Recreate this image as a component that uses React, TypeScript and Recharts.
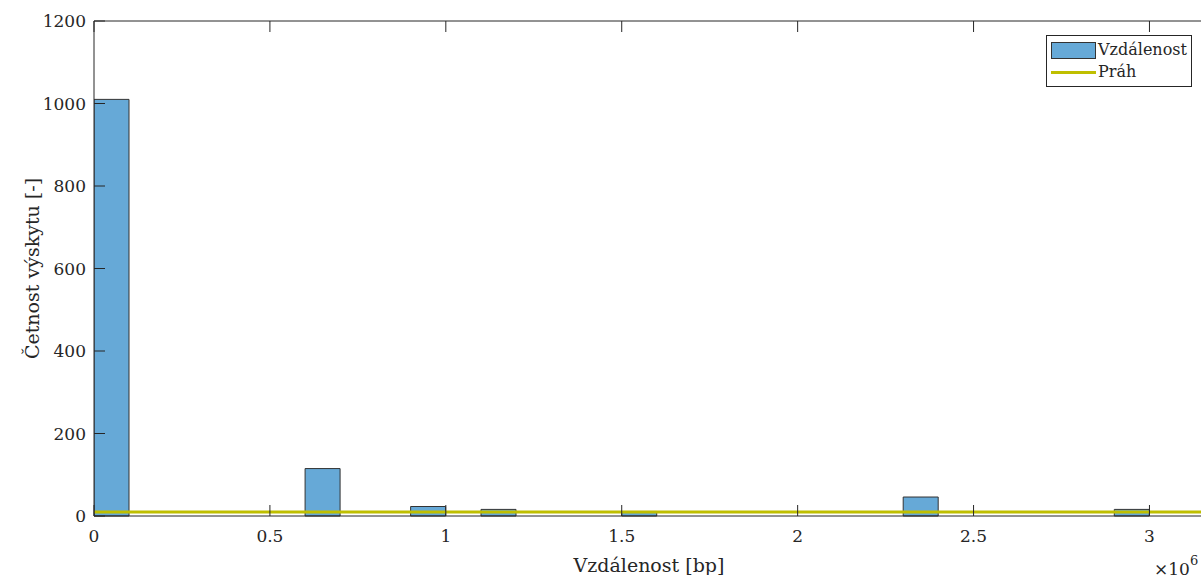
import { ComposedChart, Bar, XAxis, YAxis, ReferenceLine, Legend, Label } from 'recharts';

// histogram bins, width 0.1e6 bp, given by centre
const binCenters = [
  50000, 150000, 250000, 350000, 450000, 550000, 650000, 750000, 850000, 950000,
  1050000, 1150000, 1250000, 1350000, 1450000, 1550000, 1650000, 1750000, 1850000, 1950000,
  2050000, 2150000, 2250000, 2350000, 2450000, 2550000, 2650000, 2750000, 2850000, 2950000,
  3050000,
];
const counts = [
  1010, 0, 0, 0, 0, 0, 115, 0, 0, 23,
  0, 16, 0, 0, 0, 11, 0, 0, 0, 0,
  0, 0, 0, 46, 0, 0, 0, 0, 0, 16,
  0,
];
const threshold = 10;

const xTicks = [0, 500000, 1000000, 1500000, 2000000, 2500000, 3000000];
const xTickLabels = ['0', '0.5', '1', '1.5', '2', '2.5', '3'];
const yTicks = [0, 200, 400, 600, 800, 1000, 1200];

const data = binCenters.map((x, i) => ({ x, count: counts[i] }));

const FONT = '"DejaVu Serif", serif';
const INK = '#262626';
const TICK_LEN = 11;
const BAR_FILL = '#66a9d7';
const LINE_COLOR = '#bfbf00';

const BottomTick = ({ x, y, payload }: any) => {
  const idx = xTicks.indexOf(payload.value);
  return (
    <g>
      <line x1={x} y1={y} x2={x} y2={y - TICK_LEN} stroke={INK} />
      <text x={x} y={y + 26} textAnchor="middle" fill={INK} fontSize={17} fontFamily={FONT}>
        {idx >= 0 ? xTickLabels[idx] : payload.value}
      </text>
    </g>
  );
};

const TopTick = ({ x, y }: any) => <line x1={x} y1={y} x2={x} y2={y + TICK_LEN} stroke={INK} />;

const LeftTick = ({ x, y, payload }: any) => (
  <g>
    <line x1={x} y1={y} x2={x + TICK_LEN} y2={y} stroke={INK} />
    <text x={x - 8} y={y + 6} textAnchor="end" fill={INK} fontSize={17} fontFamily={FONT}>
      {payload.value}
    </text>
  </g>
);

const RightTick = ({ x, y }: any) => <line x1={x} y1={y} x2={x - TICK_LEN} y2={y} stroke={INK} />;

const ScaleLabel = ({ viewBox }: any) => {
  const right = 1201;
  return (
    <text x={right - 47} y={viewBox.y + 59} fill={INK} fontSize={17} fontFamily={FONT}>
      ×10<tspan dy={-10} fontSize={13}>6</tspan>
    </text>
  );
};

const YTitle = ({ viewBox }: any) => {
  const cx = 32;
  const cy = viewBox.y + viewBox.height / 2;
  return (
    <text
      x={cx}
      y={cy}
      transform={`rotate(-90 ${cx} ${cy})`}
      textAnchor="middle"
      dominantBaseline="central"
      fill={INK}
      fontSize={19}
      fontFamily={FONT}
    >
      Četnost výskytu [-]
    </text>
  );
};

const HistLegend = () => (
  <div
    style={{
      border: `1px solid ${INK}`,
      background: '#fff',
      padding: '3px 4px 3px 4px',
      fontFamily: FONT,
      fontSize: 16,
      color: INK,
      lineHeight: '22px',
    }}
  >
    <div style={{ display: 'flex', alignItems: 'center' }}>
      <span
        style={{
          display: 'inline-block',
          width: 43,
          height: 15,
          background: BAR_FILL,
          border: '1px solid #333',
          marginRight: 2,
        }}
      />
      Vzdálenost
    </div>
    <div style={{ display: 'flex', alignItems: 'center' }}>
      <span
        style={{
          display: 'inline-block',
          width: 45,
          height: 3,
          background: LINE_COLOR,
          marginRight: 2,
        }}
      />
      Práh
    </div>
  </div>
);

export default function App() {
  return (
    <div style={{ position: 'fixed', left: 0, top: 0, width: 1201, height: 575, overflow: 'hidden', background: '#fff' }}>
      <ComposedChart
        width={1220}
        height={575}
        data={data}
        margin={{ top: 20, right: 0, bottom: 0, left: 0 }}
        barCategoryGap={0}
        barGap={0}
      >
        <XAxis
          xAxisId="b"
          dataKey="x"
          type="number"
          domain={[0, 3155000]}
          ticks={xTicks}
          orientation="bottom"
          height={59}
          tickSize={0}
          tickMargin={0}
          tickLine={false}
          tick={<BottomTick />}
          axisLine={{ stroke: INK }}
          allowDataOverflow
        >
          <Label
            value="Vzdálenost [bp]"
            position="insideBottom"
            offset={3}
            style={{ fill: INK, fontSize: 19, fontFamily: FONT }}
          />
          <Label content={<ScaleLabel />} />
        </XAxis>
        <XAxis
          xAxisId="t"
          dataKey="x"
          type="number"
          domain={[0, 3155000]}
          ticks={xTicks}
          orientation="top"
          height={1}
          tickSize={0}
          tickMargin={0}
          tickLine={false}
          tick={<TopTick />}
          axisLine={{ stroke: INK }}
          allowDataOverflow
        />
        <YAxis
          yAxisId="l"
          type="number"
          domain={[0, 1200]}
          ticks={yTicks}
          width={94}
          tickSize={0}
          tickMargin={0}
          tickLine={false}
          tick={<LeftTick />}
          axisLine={{ stroke: INK }}
        >
          <Label content={<YTitle />} />
        </YAxis>
        <YAxis
          yAxisId="r"
          orientation="right"
          type="number"
          domain={[0, 1200]}
          ticks={yTicks}
          width={16}
          tickSize={0}
          tickMargin={0}
          tickLine={false}
          tick={<RightTick />}
          axisLine={{ stroke: INK }}
        />
        <Bar
          xAxisId="b"
          yAxisId="l"
          dataKey="count"
          name="Vzdálenost"
          fill={BAR_FILL}
          stroke="#333"
          strokeWidth={1}
          isAnimationActive={false}
        />
        <ReferenceLine
          xAxisId="b"
          yAxisId="l"
          y={threshold}
          stroke={LINE_COLOR}
          strokeWidth={3}
          ifOverflow="extendDomain"
        />
        <Legend
          layout="horizontal"
          verticalAlign="middle"
          align="center"
          content={<HistLegend />}
          wrapperStyle={{ position: 'absolute', left: 1046, top: 35, width: 'auto' }}
        />
      </ComposedChart>
    </div>
  );
}
